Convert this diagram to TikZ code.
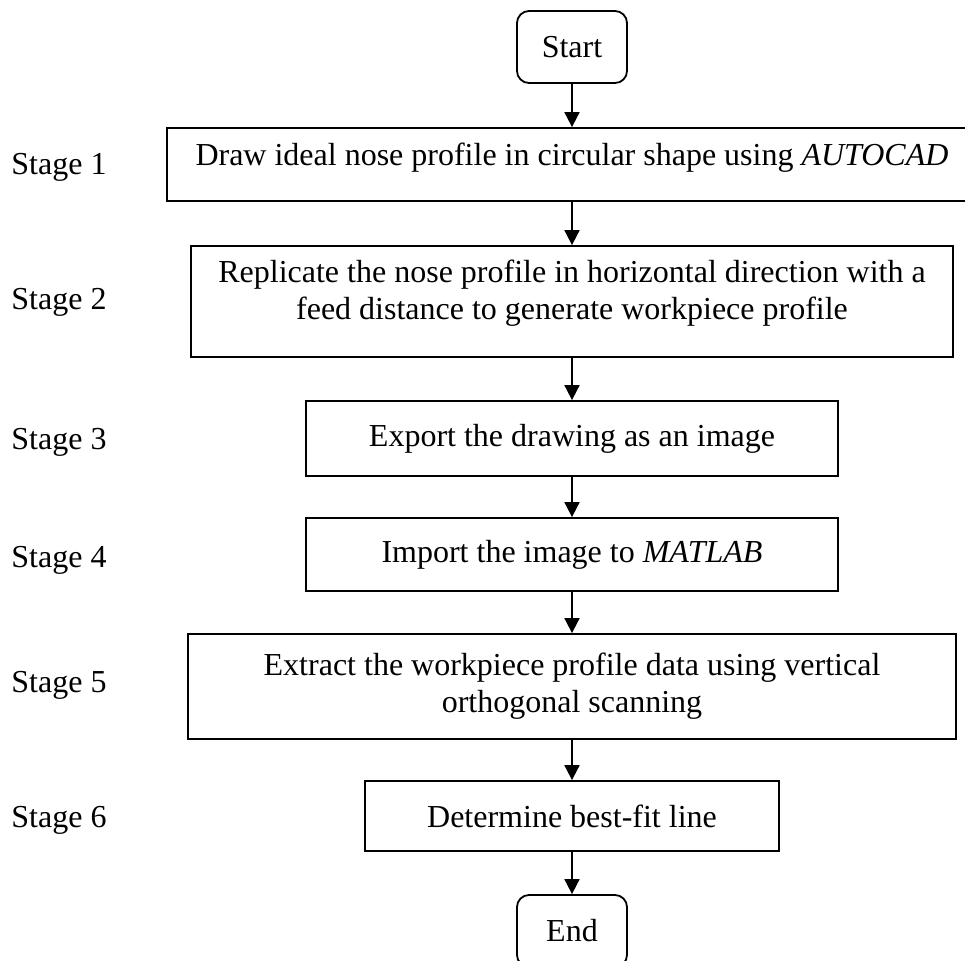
\documentclass[tikz,border=0pt]{standalone}
\usepackage{fontspec}
\setmainfont{Liberation Serif}
\usetikzlibrary{arrows.meta}
\begin{document}
\begin{tikzpicture}[x=0.5pt,y=-0.5pt,
  every node/.style={font=\fontsize{16}{18.5}\selectfont},
  stepbox/.style={draw,line width=0.9pt,align=center,inner sep=0pt},
  termbox/.style={stepbox,rounded corners=6pt,minimum width=55pt,minimum height=36pt},
  stagelabel/.style={anchor=west,inner sep=0pt},
  flow/.style={-{Triangle[width=7.5pt,length=7.5pt]},line width=0.9pt}]
  \useasboundingbox (0,0) rectangle (965,960);
  % flow boxes
  \node[termbox] (start) at (572,47) {Start};
  \node[stepbox,minimum width=405pt,minimum height=36.5pt,text depth=10.5pt] (s1) at (572,164.5)
    {Draw ideal nose profile in circular shape using \textit{AUTOCAD}};
  \node[stepbox,minimum width=381pt,minimum height=55.5pt,text depth=11.5pt] (s2) at (572,301.5)
    {Replicate the nose profile in horizontal direction with a\\feed distance to generate workpiece profile};
  \node[stepbox,minimum width=266pt,minimum height=37.5pt] (s3) at (572,438.5)
    {Export the drawing as an image};
  \node[stepbox,minimum width=266pt,minimum height=36.5pt] (s4) at (572,554.5)
    {Import the image to \textit{MATLAB}};
  \node[stepbox,minimum width=384pt,minimum height=52.5pt] (s5) at (572,686.5)
    {Extract the workpiece profile data using vertical\\orthogonal scanning};
  \node[stepbox,minimum width=207pt,minimum height=35pt] (s6) at (572,816)
    {Determine best-fit line};
  \node[termbox] (end) at (572,931) {End};
  % stage labels
  \node[stagelabel] (l1) at (11,167) {Stage 1};
  \node[stagelabel] (l2) at (11,302) {Stage 2};
  \node[stagelabel] (l3) at (11,442) {Stage 3};
  \node[stagelabel] (l4) at (11,560) {Stage 4};
  \node[stagelabel] (l5) at (11,685) {Stage 5};
  \node[stagelabel] (l6) at (11,820) {Stage 6};
  % arrows
  \draw[flow] (start) -- (s1);
  \draw[flow] (s1) -- (s2);
  \draw[flow] (s2) -- (s3);
  \draw[flow] (s3) -- (s4);
  \draw[flow] (s4) -- (s5);
  \draw[flow] (s5) -- (s6);
  \draw[flow] (s6) -- (end);
\end{tikzpicture}
\end{document}
